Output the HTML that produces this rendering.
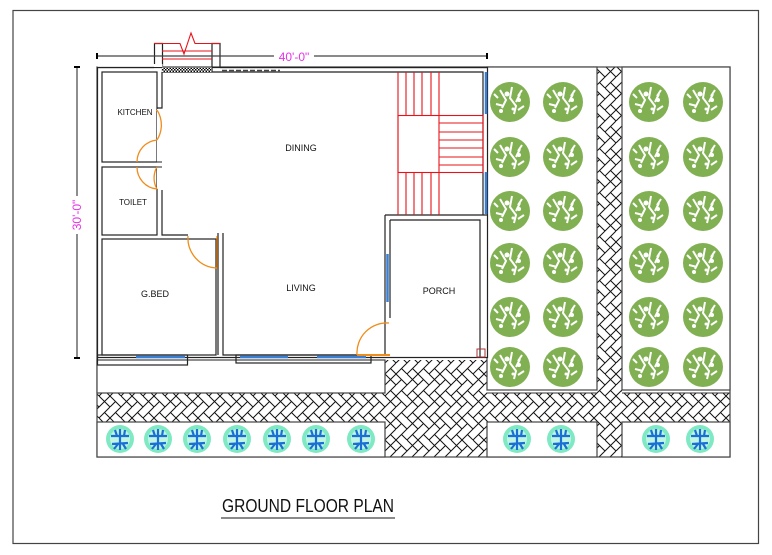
<!DOCTYPE html>
<html><head><meta charset="utf-8"><style>
html,body{margin:0;padding:0;background:#fff;}
svg{display:block;}
text{font-family:"Liberation Sans",sans-serif;}
</style></head><body>
<svg width="772" height="555" viewBox="0 0 772 555" xmlns="http://www.w3.org/2000/svg">
<defs>
<pattern id="hb" width="22" height="22" patternUnits="userSpaceOnUse">
<rect width="22" height="22" fill="#fff"/>
<path d="M0 0 L11 11 L0 22 M11 0 L22 11 L11 22 M5.5 5.5 L0 11 M16.5 5.5 L11 11 M5.5 16.5 L11 22 M16.5 16.5 L22 22 M22 0 L16.5 5.5" stroke="#111" stroke-width="1" fill="none"/>
</pattern>
<pattern id="chk" width="3" height="3" patternUnits="userSpaceOnUse">
<rect width="3" height="3" fill="#fff"/><rect width="1.5" height="1.5" fill="#000"/><rect x="1.5" y="1.5" width="1.5" height="1.5" fill="#000"/>
</pattern>
<g id="gt">
<circle r="20" fill="#80b052"/>
<path d="M-10 -12 L-4 -2 L-8 6 M2 -15 L0 -4 L6 4 L4 12 M10 -8 L6 0 M-14 2 L-6 4 M8 8 L14 4 M-12 -4 L-16 -8 M12 -12 L8 -6" stroke="#fff" stroke-width="2" fill="none"/>
<circle cx="-3" cy="-8" r="2.5" fill="#fff"/><circle cx="9" cy="-2" r="2" fill="#fff"/><circle cx="-9" cy="9" r="2" fill="#fff"/><circle cx="3" cy="7" r="1.5" fill="#fff"/>
</g>
<g id="bt">
<circle r="14" fill="#7fe9c4"/>
<circle r="10" fill="#bff5e2"/>
<path d="M0 -10 L0 11 M-9 -3 L9 -3 M-8 5 L8 4 M-5 -9 L-3 -3 M5 -9 L4 -3 M-6 10 L-2 5 M6 10 L3 5" stroke="#1a6fd6" stroke-width="2.2" fill="none"/>
</g>
</defs>

<rect x="13" y="10.5" width="745.5" height="533" fill="none" stroke="#444" stroke-width="1.2"/>

<!-- paving areas -->
<rect x="97" y="393" width="633" height="29" fill="url(#hb)" stroke="#333"/>
<rect x="385" y="360" width="102" height="97" fill="url(#hb)"/>
<rect x="597" y="67" width="25" height="390" fill="url(#hb)"/>
<rect x="97" y="67" width="633" height="390" fill="none" stroke="#444" stroke-width="1.2"/>
<!-- garden boxes -->
<rect x="487" y="67" width="110" height="323" fill="#fff" stroke="#444" stroke-width="1.2"/>
<rect x="622" y="67" width="108" height="323" fill="#fff" stroke="#444" stroke-width="1.2"/>
<rect x="97" y="422" width="288" height="35" fill="#fff" stroke="#444" stroke-width="1.2"/>
<rect x="487" y="422" width="110" height="35" fill="#fff" stroke="#444" stroke-width="1.2"/>
<rect x="622" y="422" width="108" height="35" fill="#fff" stroke="#444" stroke-width="1.2"/>
<rect x="97" y="360" width="288" height="33" fill="#fff" stroke="#444" stroke-width="1.2"/>

<!-- trees -->
<g>
<use href="#gt" x="510" y="102"/><use href="#gt" x="563" y="102"/><use href="#gt" x="649" y="102"/><use href="#gt" x="703" y="102"/>
<use href="#gt" x="510" y="157"/><use href="#gt" x="563" y="157"/><use href="#gt" x="649" y="157"/><use href="#gt" x="703" y="157"/>
<use href="#gt" x="510" y="211"/><use href="#gt" x="563" y="211"/><use href="#gt" x="649" y="211"/><use href="#gt" x="703" y="211"/>
<use href="#gt" x="510" y="263"/><use href="#gt" x="563" y="263"/><use href="#gt" x="649" y="263"/><use href="#gt" x="703" y="263"/>
<use href="#gt" x="510" y="317"/><use href="#gt" x="563" y="317"/><use href="#gt" x="649" y="317"/><use href="#gt" x="703" y="317"/>
<use href="#gt" x="510" y="367"/><use href="#gt" x="563" y="367"/><use href="#gt" x="649" y="367"/><use href="#gt" x="703" y="367"/>
</g>
<g>
<use href="#bt" x="120" y="439"/><use href="#bt" x="158" y="439"/><use href="#bt" x="197" y="439"/><use href="#bt" x="237" y="439"/><use href="#bt" x="277" y="439"/><use href="#bt" x="316" y="439"/><use href="#bt" x="361" y="439"/>
<use href="#bt" x="517" y="439"/><use href="#bt" x="561" y="439"/><use href="#bt" x="656" y="439"/><use href="#bt" x="700" y="439"/>
</g>

<!-- building -->
<g fill="none" stroke="#222" stroke-width="1.2">
<rect x="97.5" y="67.5" width="390" height="290" fill="#fff"/>
<rect x="102" y="72" width="55" height="90"/>
<rect x="102" y="167" width="55" height="68"/>
<rect x="102" y="239" width="114" height="116"/>
<path d="M162 72 V108 H157 M162 190 V235 H188 M162 72 H483 V215"/>
<path d="M223 233 V355 H385 M218 233 V355"/>
<path d="M385 215 V355 M390 220 V318 M385 215 H488 M390 220 H480 V357"/>
<!-- sills -->
<rect x="97.5" y="355" width="90" height="10"/>
<rect x="236" y="355" width="135" height="8"/>
</g>
<rect x="157" y="109" width="5" height="80" fill="#fff"/>
<line x1="157" y1="162" x2="162" y2="162" stroke="#222"/>
<line x1="157" y1="167" x2="162" y2="167" stroke="#222"/>
<!-- windows -->
<g stroke="#3a7fd6" stroke-width="2.5">
<line x1="136" y1="357" x2="185" y2="357"/>
<line x1="240" y1="357" x2="288" y2="357"/>
<line x1="317" y1="357" x2="366" y2="357"/>
<line x1="387.5" y1="254" x2="387.5" y2="302"/>
<line x1="486" y1="72" x2="486" y2="114"/>
<line x1="486" y1="172" x2="486" y2="214"/>
</g>
<!-- doors -->
<g stroke="#f08c1a" stroke-width="1.3" fill="none">
<path d="M157 140 A28 28 0 0 0 157 110"/><path d="M137 162 A22 22 0 0 1 157 140"/>
<path d="M157 167 A22 22 0 0 0 157 189"/><path d="M137 167 A22 22 0 0 0 157 189"/>
<path d="M188 236 A30 30 0 0 0 217 268 V236"/>
<path d="M357 355 A30 30 0 0 1 389 323"/>
<line x1="357" y1="355" x2="390" y2="355" stroke-width="2"/>
</g>
<rect x="477" y="349" width="8" height="8" fill="none" stroke="#a33"/>
<!-- stairs -->
<g stroke="#e8131a" stroke-width="1.1" fill="none">
<path d="M398 72 V215 M406 72 V115 M414 72 V115 M422 72 V115 M431 72 V115 M439 72 V115"/>
<path d="M406 172 V215 M414 172 V215 M422 172 V215 M431 172 V215 M439 172 V215"/>
<rect x="398" y="115.5" width="85" height="57"/>
<path d="M439 115 V172 M439 123 H483 M439 132 H483 M439 140 H483 M439 148 H483 M439 157 H483 M439 165 H483"/>
</g>
<!-- entry -->
<g fill="none" stroke="#222" stroke-width="1.2">
<path d="M154.5 67 V43.5 H162.5 V72 M220 67 V43.5 H212 V72"/>
</g>
<rect x="162" y="67" width="50" height="5" fill="url(#chk)"/>
<g stroke="#e8131a" stroke-width="1.1" fill="none">
<path d="M154 43.5 H180 L184 54 L191 33 L195 43.5 H220"/>
<path d="M162 51 H212 M162 59 H212"/>
</g>
<path d="M222 70.5 H280" stroke="#444" stroke-dasharray="5 2" stroke-width="1.4"/>
<rect x="97.5" y="64" width="65" height="3" fill="#fff"/>
<path d="M97 67.5 H154 M220 67.5 H488" stroke="#222" stroke-width="1.2"/>

<!-- dimensions -->
<line x1="97" y1="56" x2="487" y2="56" stroke="#444" stroke-width="1.2"/>
<path d="M97 53 V59 M487 53 V59" stroke="#000" stroke-width="2"/>
<rect x="274" y="49" width="40" height="14" fill="#fff"/>
<text x="294" y="61" font-size="12" fill="#e633e6" text-anchor="middle">40'-0"</text>
<line x1="77" y1="67" x2="77" y2="358" stroke="#444" stroke-width="1.2"/>
<path d="M74 67 H80 M74 358 H80" stroke="#000" stroke-width="2"/>
<rect x="70" y="196" width="14" height="38" fill="#fff"/>
<text x="0" y="0" font-size="12" fill="#e633e6" text-anchor="middle" transform="translate(81 215) rotate(-90)">30'-0"</text>

<!-- labels -->
<g font-size="9" fill="#111" text-anchor="middle">
<text x="135" y="115" font-size="8">KITCHEN</text>
<text x="133" y="205" font-size="8">TOILET</text>
<text x="301" y="151">DINING</text>
<text x="155" y="297">G.BED</text>
<text x="301" y="291">LIVING</text>
<text x="439" y="294">PORCH</text>
</g>
<text x="308" y="512" font-size="18" fill="#111" text-anchor="middle" textLength="172" lengthAdjust="spacingAndGlyphs">GROUND FLOOR PLAN</text>
<line x1="221" y1="518" x2="395" y2="518" stroke="#444" stroke-width="1.3"/>
</svg>
</body></html>
